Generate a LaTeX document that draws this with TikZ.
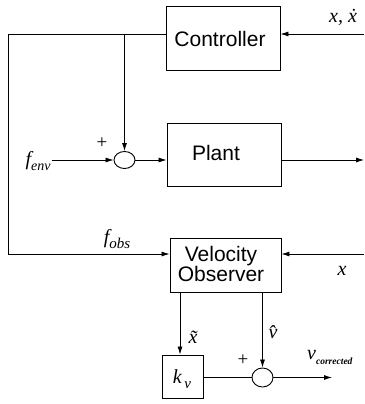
\documentclass[tikz,border=0pt]{standalone}
\usepackage{fontspec}
\setmainfont{Liberation Sans}
\newfontfamily\tms{Liberation Serif}
\usetikzlibrary{arrows.meta,shapes.geometric}
\newcommand\mysub[2][14]{\raisebox{-0.25em}{\fontsize{#1}{#1}\selectfont #2}}
\begin{document}
\begin{tikzpicture}[x=1pt,y=-1pt,
  blk/.style={draw, line width=0.9pt, inner sep=0},
  sumnode/.style={draw, ellipse, line width=0.9pt, inner sep=0, minimum width=21pt, minimum height=18pt},
  lbl/.style={font=\fontsize{21}{24}\selectfont, inner sep=0, align=center},
  mth/.style={font=\tms\itshape\fontsize{20}{22}\selectfont, inner sep=0},
  pls/.style={font=\tms\fontsize{19}{20}\selectfont, inner sep=0},
  arr/.style={-{Latex[length=8pt,width=5pt]}, line width=0.8pt},
  ln/.style={line width=0.8pt}]
\useasboundingbox (0,0) rectangle (364,404);
% blocks
\node[blk, minimum width=114pt, minimum height=64pt] (ctrl) at (223,38) {};
\node[lbl] (ctrlt) at (220,39) {Controller};
\node[blk, minimum width=114pt, minimum height=63pt] (plant) at (224,154.5) {};
\node[lbl] (plantt) at (216,153) {Plant};
\node[blk, minimum width=111pt, minimum height=54pt] (vo) at (225.5,265) {};
\node[lbl, font=\fontsize{21}{17}\selectfont] (vot) at (221,264) {Velocity\\Observer};
\node[blk, minimum width=41pt, minimum height=43pt] (kv) at (182.5,376.5) {};
\node[mth] (kvt) at (182,379) {k\mysub[15]{\,v}};
% summing junctions
\node[sumnode, minimum height=17pt] (s1) at (124.5,160) {};
\node[sumnode, minimum height=19pt] (s2) at (262.5,377.5) {};
% coordinates
\coordinate (fbtop) at (8,34);
\coordinate (fbbot) at (8,254);
\coordinate (br) at (124.5,34);
\coordinate (xin) at (364,34);
\coordinate (pout) at (364,160);
\coordinate (xin2) at (364,254);
\coordinate (kvin) at (180,0);
\coordinate (vout) at (332,377.5);
% labels
\node[mth] (fenv) at (38,161) {f\mysub[14]{env}};
\node[mth] (fobs) at (117,239) {f\mysub[15]{obs}};
\node[mth] (xxd) at (343,17) {x, \.{x}};
\node[mth] (xl) at (342,271) {x};
\node[mth] (xt) at (193,337) {\~{x}};
\node[mth] (vh) at (273,332) {\^{v}};
\node[mth, anchor=west] (vc) at (307,357) {v\mysub[9.5]{\bfseries corrected}};
\node[pls] (p1) at (102,143) {+};
\node[pls] (p2) at (243,360) {+};
% connectors
\draw[arr] (ctrl.west |- fbtop) -- (fbtop) -- (fbbot) -- (vo.west |- fbbot);
\draw[arr] (br) -- (s1.north);
\draw[arr] ([xshift=1pt]fenv.east |- s1) -- (s1.west);
\draw[arr] (s1.east) -- (plant.west |- s1);
\draw[arr] (plant.east |- pout) -- (pout);
\draw[arr] (xin) -- (ctrl.east |- xin);
\draw[arr] (xin2) -- (vo.east |- xin2);
\draw[arr] (kvin |- vo.south) -- (kvin |- kv.north);
\draw[arr] (s2.north |- vo.south) -- (s2.north);
\draw[ln] (kv.east |- s2) -- (s2.west);
\draw[arr] (s2.east) -- (vout);
\end{tikzpicture}
\end{document}
